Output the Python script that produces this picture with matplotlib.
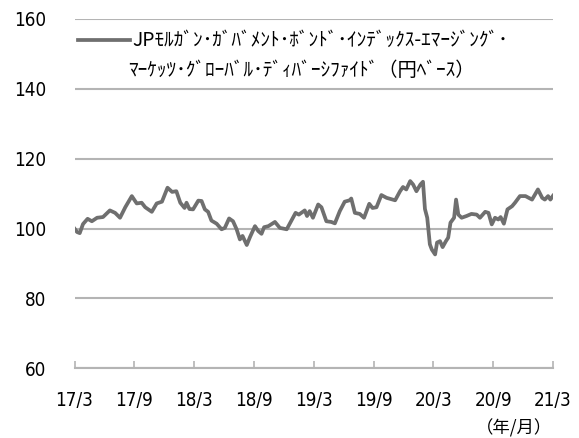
import matplotlib
matplotlib.use("Agg")
import matplotlib.pyplot as plt
from matplotlib.lines import Line2D
import pandas as pd

dates = [
    "2017-03-31", "2017-04-08", "2017-04-16", "2017-04-26", "2017-05-10", "2017-05-23",
    "2017-06-08", "2017-06-26", "2017-07-17", "2017-08-02", "2017-08-17", "2017-09-02",
    "2017-09-22", "2017-10-07", "2017-10-22", "2017-11-02", "2017-11-22", "2017-12-07",
    "2017-12-23", "2018-01-09", "2018-01-23", "2018-02-05", "2018-02-17", "2018-03-02",
    "2018-03-08", "2018-03-17", "2018-03-28", "2018-04-13", "2018-04-23", "2018-05-03",
    "2018-05-13", "2018-05-23", "2018-06-08", "2018-06-23", "2018-07-03", "2018-07-16",
    "2018-07-28", "2018-08-08", "2018-08-18", "2018-08-26", "2018-09-08", "2018-09-18",
    "2018-10-03", "2018-10-13", "2018-10-23", "2018-10-31", "2018-11-13", "2018-12-03",
    "2018-12-18", "2019-01-08", "2019-02-04", "2019-02-14", "2019-03-04", "2019-03-11",
    "2019-03-19", "2019-03-29", "2019-04-14", "2019-04-24", "2019-05-09", "2019-05-24",
    "2019-06-04", "2019-06-19", "2019-07-04", "2019-07-19", "2019-07-24", "2019-08-04",
    "2019-08-19", "2019-09-01", "2019-09-17", "2019-09-27", "2019-10-09", "2019-10-24",
    "2019-11-09", "2019-12-05", "2019-12-20", "2019-12-29", "2020-01-08", "2020-01-20",
    "2020-01-29", "2020-02-08", "2020-02-20", "2020-02-28", "2020-03-05", "2020-03-12",
    "2020-03-20", "2020-03-26", "2020-04-05", "2020-04-11", "2020-04-20", "2020-04-28",
    "2020-05-08", "2020-05-15", "2020-05-22", "2020-06-02", "2020-06-08", "2020-06-15",
    "2020-06-25", "2020-07-10", "2020-07-25", "2020-08-10", "2020-08-20", "2020-09-05",
    "2020-09-15", "2020-09-25", "2020-10-05", "2020-10-15", "2020-10-22", "2020-11-01",
    "2020-11-12", "2020-11-26", "2020-12-05", "2020-12-20", "2021-01-06", "2021-01-26",
    "2021-02-13", "2021-02-26", "2021-03-06", "2021-03-16", "2021-03-23", "2021-03-31",
]
values = [
    100.0, 99.0, 98.7, 101.3, 102.8, 102.1,
    103.1, 103.3, 105.2, 104.5, 103.1, 106.1,
    109.3, 107.2, 107.4, 106.1, 104.8, 107.2,
    107.7, 111.7, 110.5, 110.7, 107.4, 105.9,
    107.4, 105.6, 105.5, 108.0, 107.9, 105.5,
    104.8, 102.3, 101.4, 99.8, 100.2, 102.9,
    102.1, 99.8, 96.9, 97.9, 95.3, 97.6,
    100.7, 99.3, 98.5, 100.4, 100.7, 101.9,
    100.2, 99.8, 104.5, 104.0, 105.2, 103.6,
    105.0, 103.1, 106.9, 106.1, 102.1, 101.9,
    101.5, 105.0, 107.7, 108.1, 108.6, 104.5,
    104.2, 103.1, 107.1, 105.9, 106.1, 109.6,
    108.8, 108.1, 110.7, 111.9, 111.2, 113.6,
    112.6, 110.7, 112.6, 113.4, 105.6, 103.1,
    95.5, 94.0, 92.6, 96.0, 96.4, 94.7,
    96.4, 97.4, 101.7, 103.1, 108.3, 104.0,
    103.1, 103.6, 104.2, 104.0, 103.1, 104.8,
    104.5, 101.2, 103.1, 102.6, 103.3, 101.4,
    105.5, 106.4, 107.4, 109.3, 109.3, 108.3,
    111.2, 108.8, 108.3, 109.3, 108.3, 109.4,
]
tick_dates = ["2017-03-31", "2017-09-30", "2018-03-31", "2018-09-30", "2019-03-31",
              "2019-09-30", "2020-03-31", "2020-09-30", "2021-03-31"]
tick_labels = ["17/3", "17/9", "18/3", "18/9", "19/3", "19/9", "20/3", "20/9", "21/3"]
y_ticks = [60, 80, 100, 120, 140, 160]
series_label_1 = "JPﾓﾙｶﾞﾝ･ｶﾞﾊﾞﾒﾝﾄ･ﾎﾞﾝﾄﾞ･ｲﾝﾃﾞｯｸｽ-ｴﾏｰｼﾞﾝｸﾞ･"
series_label_2 = "ﾏｰｹｯﾂ･ｸﾞﾛｰﾊﾞﾙ･ﾃﾞｨﾊﾞｰｼﾌｧｲﾄﾞ（円ﾍﾞｰｽ）"
unit_label = "（年/月）"

x = pd.to_datetime(dates)
xt = pd.to_datetime(tick_dates)

LINE = "#6f6f6f"
GRID = "#b4b4b4"
CJK = ["Noto Sans CJK JP", "DejaVu Sans"]

fig = plt.figure(figsize=(5.79, 4.38), dpi=100)
ax = fig.add_axes([74.5 / 579, 1 - 368.3 / 438, (553 - 74.5) / 579, (368.3 - 19) / 438])

ax.plot(x, values, color=LINE, linewidth=2.7, solid_joinstyle="round", zorder=3)

ax.set_xlim(xt[0], xt[-1])
ax.set_ylim(60, 160)
ax.set_yticks(y_ticks)
ax.set_xticks(xt)
ax.set_xticklabels(tick_labels)

for s in ["top", "right", "left"]:
    ax.spines[s].set_visible(False)
ax.spines["bottom"].set_color(GRID)
ax.spines["bottom"].set_linewidth(1.5)

ax.grid(axis="y", color=GRID, linewidth=1.5, zorder=1)
ax.set_axisbelow(True)
ax.tick_params(axis="y", length=0, pad=20, labelsize=13.5, labelcolor="#000000")
ax.tick_params(axis="x", direction="in", length=5, width=1.2, color=GRID, pad=16.5,
               labelsize=13.5, labelcolor="#000000")
for lab in ax.get_xticklabels() + ax.get_yticklabels():
    lab.set_fontfamily("DejaVu Sans")
    lab.set_fontstretch("condensed")

# legend
ax.add_line(Line2D([0.0073, 0.116], [0.940, 0.940], transform=ax.transAxes,
                   color=LINE, linewidth=2.7, clip_on=False))
ax.text(0.120, 0.940, series_label_1, transform=ax.transAxes, ha="left", va="center",
        fontsize=13.9, family=CJK, color="#000000")
ax.text(0.112, 0.8526, series_label_2, transform=ax.transAxes, ha="left", va="center",
        fontsize=13.9, family=CJK, color="#000000")

fig.text(514 / 579, 1 - 428 / 438, unit_label, ha="center", va="center",
         fontsize=12.5, family=CJK, color="#000000")

fig.savefig("out.png", dpi=100)
